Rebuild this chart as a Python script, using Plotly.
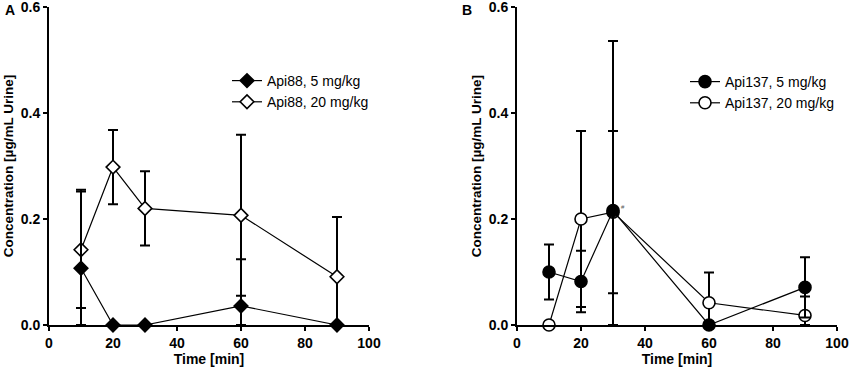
import plotly.graph_objects as go

# ---------------- data ----------------
time_min = [10, 20, 30, 60, 90]

api88_5_mean = [0.107, 0.0, 0.0, 0.036, 0.0]
api88_5_sd = [0.148, 0.0, 0.0, 0.088, 0.0]
api88_20_mean = [0.142, 0.298, 0.220, 0.207, 0.091]
api88_20_sd = [0.110, 0.070, 0.070, 0.152, 0.113]

api137_5_mean = [0.100, 0.082, 0.216, 0.0, 0.071]
api137_5_sd = [0.052, 0.058, 0.320, 0.0, 0.057]
api137_20_mean = [0.0, 0.200, 0.213, 0.042, 0.018]
api137_20_sd = [0.0, 0.166, 0.153, 0.057, 0.036]

y_ticks = [0.0, 0.2, 0.4, 0.6]
y_tick_text = ["0.0", "0.2", "0.4", "0.6"]
x_ticks = [0, 20, 40, 60, 80, 100]

FONT = "Arial, Liberation Sans, Helvetica, sans-serif"
W, H = 850, 367


def minus(mean, sd):
    # error bars cannot go below the axis floor (0)
    return [min(m, s) for m, s in zip(mean, sd)]


def series(x, mean, sd, name, symbol, fill, size, xa, ya, legend, rank):
    return go.Scatter(
        x=x, y=mean, name=name, mode="lines+markers",
        xaxis=xa, yaxis=ya, legend=legend, legendrank=rank,
        line=dict(color="black", width=1.2),
        marker=dict(symbol=symbol, size=size, color=fill,
                    line=dict(color="black", width=1.6)),
        error_y=dict(type="data", symmetric=False, array=sd,
                     arrayminus=minus(mean, sd), color="black",
                     thickness=2, width=5),
        cliponaxis=False,
    )


fig = go.Figure()
# Panel A
fig.add_trace(series(time_min, api88_20_mean, api88_20_sd, "Api88, 20 mg/kg",
                     "diamond", "white", 10.5, "x", "y", "legend", 2))
fig.add_trace(series(time_min, api88_5_mean, api88_5_sd, "Api88, 5 mg/kg",
                     "diamond", "black", 10.5, "x", "y", "legend", 1))
# Panel B
fig.add_trace(series(time_min, api137_20_mean, api137_20_sd, "Api137, 20 mg/kg",
                     "circle", "white", 12, "x2", "y2", "legend2", 2))
fig.add_trace(series(time_min, api137_5_mean, api137_5_sd, "Api137, 5 mg/kg",
                     "circle", "black", 12, "x2", "y2", "legend2", 1))

x_dom1 = [49 / W, 369 / W]
x_dom2 = [517 / W, 837 / W]
y_dom = [(H - 325) / H, (H - 7) / H]

xaxis_common = dict(
    range=[0, 100], tickvals=x_ticks, showgrid=False, zeroline=False,
    showline=True, linecolor="black", linewidth=2, automargin=False,
    ticks="outside", ticklen=4, tickwidth=2, tickcolor="black",
    ticklabeloverflow="allow",
    tickfont=dict(family=FONT, size=14, color="black", weight="bold"),
    title=dict(text="<b>Time [min]</b>", font=dict(family=FONT, size=14, color="black"),
               standoff=3),
)
yaxis_common = dict(
    range=[0, 0.6001], tickvals=y_ticks, ticktext=y_tick_text,
    showgrid=False, zeroline=False, automargin=False,
    showline=True, linecolor="black", linewidth=2,
    ticks="outside", ticklen=4, tickwidth=2, tickcolor="black",
    ticklabeloverflow="allow",
    tickfont=dict(family=FONT, size=14, color="black", weight="bold"),
    title=dict(text="<b>Concentration [µg/mL Urine]</b>",
               font=dict(family=FONT, size=13.5, color="black"), standoff=4),
    domain=y_dom,
)

legend_common = dict(
    font=dict(family=FONT, size=14, color="black"),
    bgcolor="rgba(0,0,0,0)", borderwidth=0, tracegroupgap=0,
    itemwidth=30, xanchor="left", yanchor="top", traceorder="normal",
)

fig.update_layout(
    width=W, height=H,
    margin=dict(l=0, r=0, t=0, b=0),
    paper_bgcolor="white", plot_bgcolor="white",
    font=dict(family=FONT, color="black"),
    xaxis=dict(xaxis_common, domain=x_dom1, anchor="y"),
    yaxis=dict(yaxis_common, anchor="x"),
    xaxis2=dict(xaxis_common, domain=x_dom2, anchor="y2"),
    yaxis2=dict(yaxis_common, anchor="x2"),
    legend=dict(legend_common, x=227 / W, y=1 - 65 / H),
    legend2=dict(legend_common, x=685 / W, y=1 - 66 / H),
    showlegend=True,
    annotations=[
        dict(text="<b>A</b>", x=10 / W, y=1 - 10 / H, xref="paper", yref="paper",
             showarrow=False, xanchor="center", yanchor="middle",
             font=dict(family=FONT, size=14, color="black")),
        dict(text="<b>B</b>", x=467 / W, y=1 - 10 / H, xref="paper", yref="paper",
             showarrow=False, xanchor="center", yanchor="middle",
             font=dict(family=FONT, size=14, color="black")),
        dict(text="#", x=30, y=api137_5_mean[2], xref="x2", yref="y2",
             xshift=10, yshift=4, showarrow=False,
             font=dict(family=FONT, size=6, color="#555555")),
    ],
)

fig.write_html(
    "out.html",
    config={"displayModeBar": False},
    post_script="document.body.style.margin='0px';document.body.style.overflow='hidden';",
)
